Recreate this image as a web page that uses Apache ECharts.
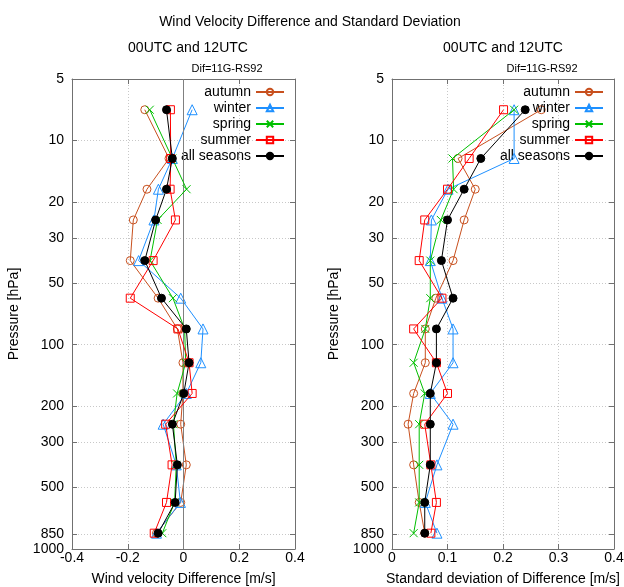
<!DOCTYPE html>
<html>
<head>
<meta charset="utf-8">
<script src="https://cdn.jsdelivr.net/npm/echarts@6/dist/echarts.min.js"></script>
<style>html,body{margin:0;padding:0;background:#fff}#c{width:624px;height:587px}</style>
</head>
<body>
<div id="c"></div>
<script>
// Pressure levels [hPa]
var levels = [7.07, 12.25, 17.32, 24.49, 38.73, 59.16, 83.67, 122.5, 173.2, 244.9, 387.3, 591.6, 836.7];
// Wind velocity difference [m/s]
var difAutumn = [-0.139, -0.052, -0.131, -0.180, -0.191, -0.091, -0.022, -0.002, -0.002, -0.010, 0.010, -0.010, -0.097];
var difWinter = [0.031, -0.040, -0.090, -0.106, -0.161, -0.010, 0.070, 0.062, 0.010, -0.073, -0.026, -0.011, -0.097];
var difSpring = [-0.121, -0.040, 0.011, -0.093, -0.120, -0.038, 0.004, 0.008, -0.023, -0.036, -0.026, -0.032, -0.076];
var difSummer = [-0.047, -0.046, -0.048, -0.029, -0.109, -0.191, -0.020, 0.020, 0.031, -0.064, -0.041, -0.061, -0.105];
var difAll    = [-0.061, -0.040, -0.061, -0.100, -0.139, -0.079, 0.010, 0.020, 0.001, -0.040, -0.022, -0.030, -0.091];
// Standard deviation of difference [m/s]
var stdAutumn = [0.269, 0.119, 0.150, 0.130, 0.110, 0.079, 0.060, 0.060, 0.039, 0.029, 0.039, 0.049, 0.059];
var stdWinter = [0.220, 0.220, 0.101, 0.071, 0.069, 0.090, 0.110, 0.110, 0.069, 0.110, 0.081, 0.060, 0.081];
var stdSpring = [0.220, 0.109, 0.111, 0.088, 0.069, 0.069, 0.060, 0.039, 0.059, 0.049, 0.049, 0.049, 0.039];
var stdSummer = [0.201, 0.139, 0.100, 0.059, 0.049, 0.090, 0.039, 0.080, 0.100, 0.059, 0.070, 0.080, 0.070];
var stdAll    = [0.240, 0.160, 0.130, 0.100, 0.089, 0.110, 0.080, 0.080, 0.069, 0.069, 0.069, 0.059, 0.059];
// Tick labels
var pressureTicks = [5, 10, 20, 30, 50, 100, 200, 300, 500, 850, 1000];
var seasonNames = ['autumn', 'winter', 'spring', 'summer', 'all seasons'];

var colors = ['#c8501e', '#1e90ff', '#00c000', '#ff0000', '#000000'];
var symbols = ['circle', 'triangle', 'path://M0,0L10,10M10,0L0,10', 'rect', 'circle'];
var symSizes = [8, 10, 8, 8, 8];
var fills = ['rgba(0,0,0,0)', 'rgba(0,0,0,0)', 'rgba(0,0,0,0)', 'rgba(0,0,0,0)', '#000000'];

var FONT = 'Liberation Sans, Arial, sans-serif';
var AX = '#707070';

function pairs(xs) { return xs.map(function (v, i) { return [v, levels[i]]; }); }

function mkSeries(name, idx, xs, panel) {
  return {
    name: name, type: 'line', xAxisIndex: panel * 2, yAxisIndex: panel * 2,
    data: pairs(xs), symbol: symbols[idx], symbolSize: symSizes[idx],
    lineStyle: { color: colors[idx], width: 1 },
    itemStyle: { color: fills[idx], borderColor: colors[idx], borderWidth: 1 },
    emphasis: { disabled: true }, z: 3 + idx
  };
}

function xAxes(min, max, interval, gridIndex, name) {
  return [{
    type: 'value', gridIndex: gridIndex, position: 'bottom', min: min, max: max, interval: interval,
    axisLine: { onZero: false, lineStyle: { color: AX, width: 1 } },
    axisTick: { inside: true, length: 5, lineStyle: { color: AX } },
    axisLabel: { margin: 2, color: '#000', fontSize: 14, fontFamily: FONT },
    splitLine: { show: true, lineStyle: { color: '#c8c8c8', type: [1, 2], width: 1 } },
    name: name, nameLocation: 'middle', nameGap: 23,
    nameTextStyle: { color: '#000', fontSize: 14, fontFamily: FONT }
  }, {
    type: 'value', gridIndex: gridIndex, position: 'top', min: min, max: max, interval: interval,
    axisLine: { onZero: false, lineStyle: { color: AX, width: 1 } },
    axisTick: { inside: true, length: 5, lineStyle: { color: AX } },
    axisLabel: { show: false }, splitLine: { show: false }
  }];
}

function yAxes(gridIndex) {
  return [{
    type: 'log', logBase: 10, gridIndex: gridIndex, position: 'left', inverse: true, min: 5, max: 1000,
    axisLine: { onZero: false, lineStyle: { color: AX, width: 1 } },
    axisTick: { inside: true, length: 5, customValues: pressureTicks, lineStyle: { color: AX } },
    axisLabel: { customValues: pressureTicks, margin: 8, color: '#000', fontSize: 14, fontFamily: FONT,
      hideOverlap: false, formatter: function (v) { return String(Math.round(v)); } },
    splitLine: { show: true, lineStyle: { color: '#c8c8c8', type: [1, 2], width: 1 } },
    minorTick: { show: false }, minorSplitLine: { show: false },
    name: 'Pressure [hPa]', nameLocation: 'middle', nameGap: 51, nameRotate: 90,
    nameTextStyle: { color: '#000', fontSize: 14, fontFamily: FONT }
  }, {
    type: 'log', logBase: 10, gridIndex: gridIndex, position: 'right', inverse: true, min: 5, max: 1000,
    axisLine: { onZero: false, lineStyle: { color: AX, width: 1 } },
    axisTick: { inside: true, length: 5, customValues: pressureTicks, lineStyle: { color: AX } },
    axisLabel: { show: false }, splitLine: { show: false },
    minorTick: { show: false }, minorSplitLine: { show: false }
  }];
}

var difArr = [difAutumn, difWinter, difSpring, difSummer, difAll];
var stdArr = [stdAutumn, stdWinter, stdSpring, stdSummer, stdAll];
var series = [];
seasonNames.forEach(function (n, i) { series.push(mkSeries(n, i, difArr[i], 0)); });
seasonNames.forEach(function (n, i) { series.push(mkSeries(n, i, stdArr[i], 1)); });
// zero axis line on the difference panel
series[0].markLine = {
  silent: true, symbol: 'none', label: { show: false }, animation: false,
  lineStyle: { color: '#808080', type: 'solid', width: 1 },
  data: [{ xAxis: 0 }]
};

function legend(right) {
  return {
    data: seasonNames, orient: 'vertical', right: right, top: 84, padding: 0,
    align: 'right', itemGap: 0, itemWidth: 28, itemHeight: 8, selectedMode: false,
    textStyle: { color: '#000', fontSize: 14, fontFamily: FONT, lineHeight: 16 }
  };
}

var option = {
  animation: false,
  backgroundColor: '#fff',
  title: [
    { text: 'Wind Velocity Difference and Standard Deviation', left: 305, top: 10, textAlign: 'center',
      textStyle: { fontSize: 14, fontWeight: 'normal', color: '#000', fontFamily: FONT } },
    { text: '00UTC and 12UTC', left: 183, top: 36, textAlign: 'center',
      textStyle: { fontSize: 14, fontWeight: 'normal', color: '#000', fontFamily: FONT } },
    { text: '00UTC and 12UTC', left: 498, top: 36, textAlign: 'center',
      textStyle: { fontSize: 14, fontWeight: 'normal', color: '#000', fontFamily: FONT } },
    { text: 'Dif=11G-RS92', left: 222, top: 58, textAlign: 'center',
      textStyle: { fontSize: 11, fontWeight: 'normal', color: '#000', fontFamily: FONT } },
    { text: 'Dif=11G-RS92', left: 537, top: 58, textAlign: 'center',
      textStyle: { fontSize: 11, fontWeight: 'normal', color: '#000', fontFamily: FONT } }
  ],
  legend: [legend(339), legend(20)],
  grid: [
    { left: 72, width: 223, top: 79, height: 470, outerBoundsMode: 'none', containLabel: false },
    { left: 392, width: 222, top: 79, height: 470, outerBoundsMode: 'none', containLabel: false }
  ],
  xAxis: xAxes(-0.4, 0.4, 0.2, 0, 'Wind velocity Difference [m/s]')
    .concat(xAxes(0, 0.4, 0.1, 1, 'Standard deviation of Difference [m/s]')),
  yAxis: yAxes(0).concat(yAxes(1)),
  series: series
};

var chart = echarts.init(document.getElementById('c'), null, { renderer: 'canvas' });
chart.setOption(option);
</script>
</body>
</html>
